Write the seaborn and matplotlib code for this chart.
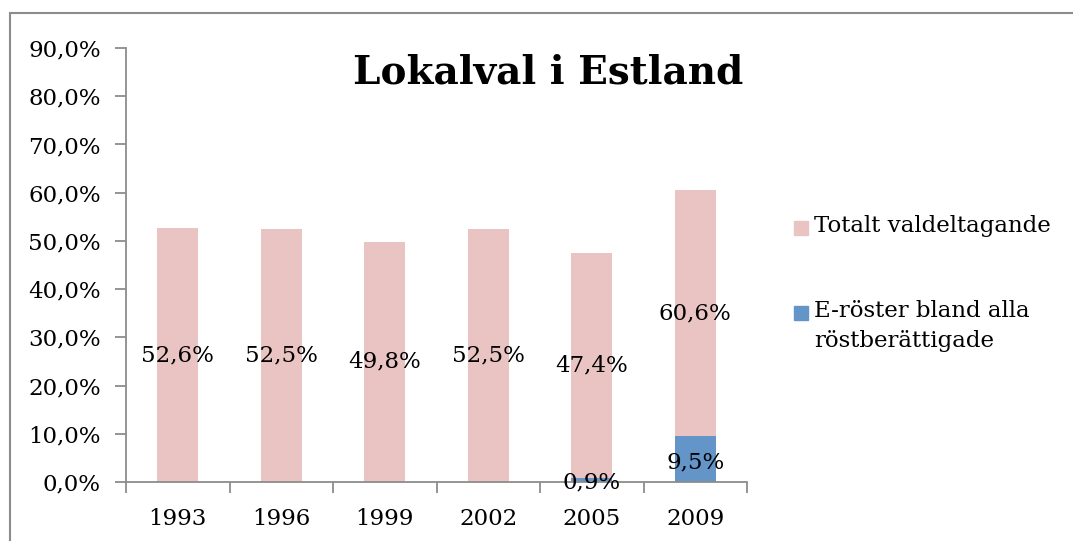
import matplotlib
matplotlib.use("Agg")
import matplotlib.pyplot as plt
import seaborn as sns
import pandas as pd
from matplotlib.patches import Rectangle

years = ["1993", "1996", "1999", "2002", "2005", "2009"]
total_turnout = [52.6, 52.5, 49.8, 52.5, 47.4, 60.6]
e_votes = [0.0, 0.0, 0.0, 0.0, 0.9, 9.5]
series_names = ["Totalt valdeltagande", "E-röster bland alla\nröstberättigade"]
y_ticks = [0, 10, 20, 30, 40, 50, 60, 70, 80, 90]
title = "Lokalval i Estland"

pink = "#EAC4C3"
blue = "#6395C9"
grey = "#8C8C8C"

sns.set_theme(style="white")
plt.rcParams["font.family"] = ["DejaVu Serif"]
plt.rcParams["text.color"] = "black"

W, H = 1073, 541
fig = plt.figure(figsize=(W / 100, H / 100), dpi=100)
ax = fig.add_axes([126 / W, 1 - 482 / H, (747 - 126) / W, (482 - 48) / H])

df = pd.DataFrame({"year": years, "total": total_turnout, "e": e_votes})
sns.barplot(data=df, x="year", y="total", color=pink, width=0.4, ax=ax,
            saturation=1, linewidth=0)
sns.barplot(data=df, x="year", y="e", color=blue, width=0.4, ax=ax,
            saturation=1, linewidth=0)

FS = 16.5
ax.set_ylim(0, 90)
ax.set_xlim(-0.5, len(years) - 0.5)
ax.set_yticks(y_ticks)
ax.set_yticklabels([f"{v:.1f}%".replace(".", ",") for v in y_ticks])
ax.set_xlabel("")
ax.set_ylabel("")
for s in ["top", "right"]:
    ax.spines[s].set_visible(False)
for s in ["left", "bottom"]:
    ax.spines[s].set_color(grey)
    ax.spines[s].set_linewidth(1.3)
ax.tick_params(axis="y", which="major", left=True, length=8, width=1.3,
               color=grey, labelsize=FS, pad=10, labelcolor="black")
ax.tick_params(axis="x", which="major", bottom=False, labelsize=FS, pad=13,
               labelcolor="black")
ax.set_xticks([i + 0.5 for i in range(-1, len(years))], minor=True)
ax.tick_params(axis="x", which="minor", bottom=True, length=8, width=1.3,
               color=grey, direction="out")

for i, (t, e) in enumerate(zip(total_turnout, e_votes)):
    lbl_t = f"{t:.1f}%".replace(".", ",")
    ax.text(i, (t + e) / 2, lbl_t, ha="center", va="center", fontsize=FS,
            color="black")
    if e > 0:
        ye = e * 0.43 if e > 2 else -0.1
        ax.text(i, ye, f"{e:.1f}%".replace(".", ","), ha="center",
                va="center", fontsize=FS, color="black")

fig.text(548 / W, 1 - 73 / H, title, ha="center", va="center",
         fontsize=28, fontweight="bold", color="black")

# legend
for (yc, col, name) in [(228, pink, series_names[0]), (313, blue, series_names[1])]:
    fig.patches.append(Rectangle((794 / W, 1 - (yc + 7) / H), 14 / W, 14 / H,
                                 transform=fig.transFigure, color=col))
    fig.text(814 / W, 1 - (yc - 13) / H, name, ha="left", va="top",
             fontsize=FS, linespacing=1.45, color="black")

# outer frame
fig.patches.append(Rectangle((10 / W, -0.1), 1.2, 1 - 13 / H + 0.1,
                             transform=fig.transFigure, fill=False,
                             edgecolor=grey, linewidth=1.5))

fig.savefig("out.png", dpi=100)
